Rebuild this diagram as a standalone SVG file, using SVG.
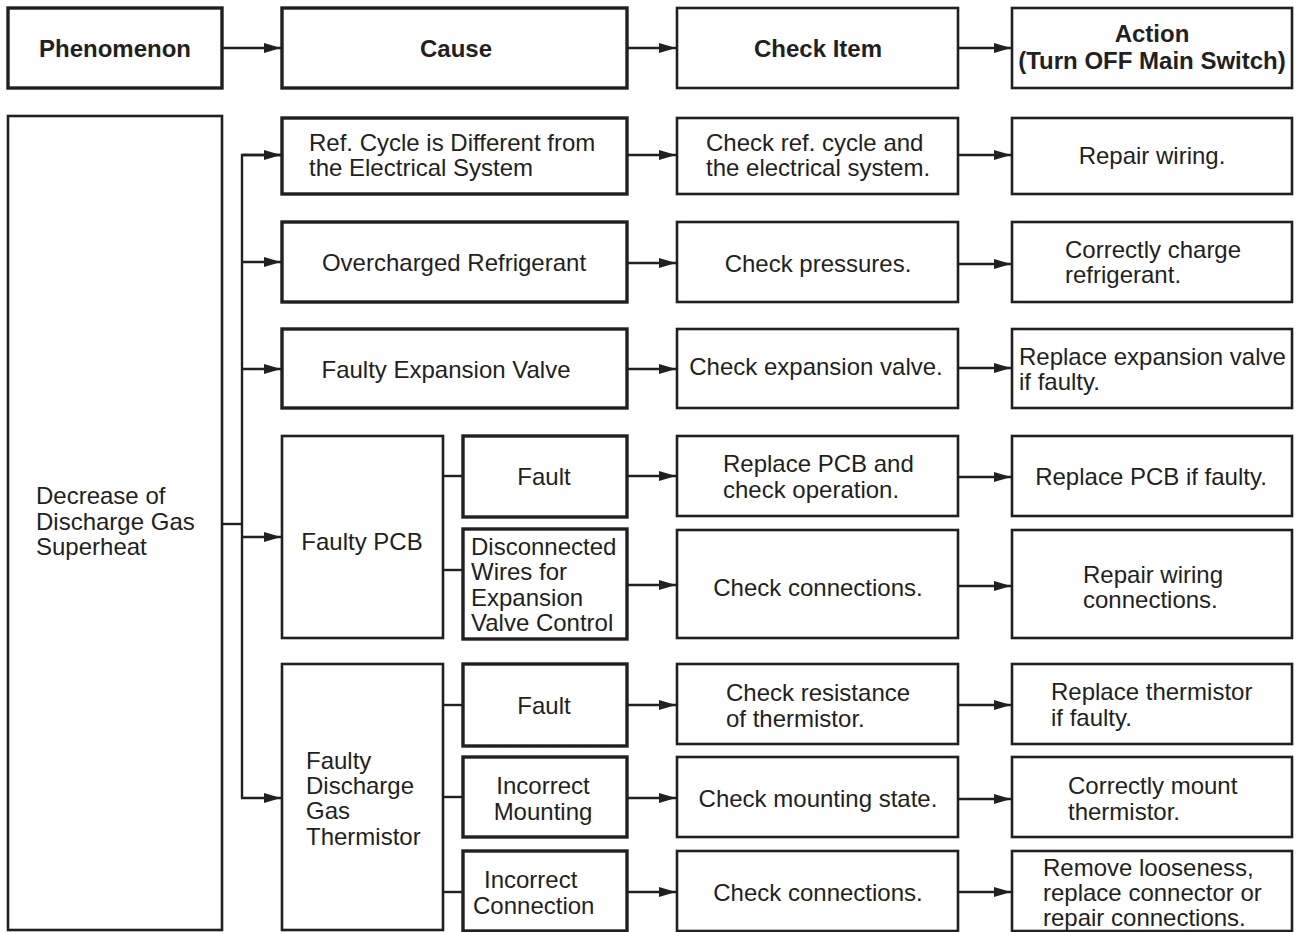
<svg xmlns="http://www.w3.org/2000/svg" width="1297" height="932" viewBox="0 0 1297 932">
<style>
text{font-family:"Liberation Sans",Arial,Helvetica,sans-serif;font-size:24px;fill:#231f20}
.b{font-weight:bold}
.m{text-anchor:middle}
.box{fill:#fff;stroke:#231f20;stroke-width:2.6}
.tk{fill:#fff;stroke:#231f20;stroke-width:3.4}
.ln{fill:none;stroke:#231f20;stroke-width:2.4}
.ar{fill:none;stroke:#231f20;stroke-width:2.4;marker-end:url(#ah)}
</style>
<defs>
<marker id="ah" viewBox="0 0 17 11" refX="17" refY="5.5" markerWidth="17" markerHeight="11" orient="auto" markerUnits="userSpaceOnUse">
<path d="M0,0.5 L17,5.5 L0,10.5 z" fill="#231f20"/>
</marker>
</defs>
<rect width="1297" height="932" fill="#fff"/>

<g id="connectors">
<line class="ar" x1="223" y1="48" x2="281" y2="48"/>
<line class="ar" x1="627" y1="48" x2="676" y2="48"/>
<line class="ar" x1="958" y1="48" x2="1011" y2="48"/>
<line class="ln" x1="223" y1="524" x2="242" y2="524"/>
<polyline class="ln" points="281,155 242,155 242,798"/>
<line class="ar" x1="242" y1="155" x2="281" y2="155"/>
<line class="ar" x1="242" y1="262" x2="281" y2="262"/>
<line class="ar" x1="242" y1="369" x2="281" y2="369"/>
<line class="ar" x1="242" y1="537" x2="281" y2="537"/>
<line class="ar" x1="241" y1="798" x2="281" y2="798"/>
<line class="ln" x1="443" y1="476" x2="462" y2="476"/>
<line class="ln" x1="443" y1="570" x2="462" y2="570"/>
<line class="ln" x1="443" y1="705" x2="462" y2="705"/>
<line class="ln" x1="443" y1="797" x2="462" y2="797"/>
<line class="ln" x1="443" y1="892" x2="462" y2="892"/>
<line class="ar" x1="627" y1="155" x2="676" y2="155"/>
<line class="ar" x1="627" y1="263" x2="676" y2="263"/>
<line class="ar" x1="627" y1="369" x2="676" y2="369"/>
<line class="ar" x1="627" y1="476" x2="676" y2="476"/>
<line class="ar" x1="627" y1="585" x2="676" y2="585"/>
<line class="ar" x1="627" y1="705" x2="676" y2="705"/>
<line class="ar" x1="627" y1="798" x2="676" y2="798"/>
<line class="ar" x1="627" y1="892" x2="676" y2="892"/>
<line class="ar" x1="958" y1="155" x2="1011" y2="155"/>
<line class="ar" x1="958" y1="264" x2="1011" y2="264"/>
<line class="ar" x1="958" y1="368" x2="1011" y2="368"/>
<line class="ar" x1="958" y1="477" x2="1011" y2="477"/>
<line class="ar" x1="958" y1="586" x2="1011" y2="586"/>
<line class="ar" x1="958" y1="705" x2="1011" y2="705"/>
<line class="ar" x1="958" y1="799" x2="1011" y2="799"/>
<line class="ar" x1="958" y1="892" x2="1011" y2="892"/>
</g>

<g id="h-phenomenon"><rect class="tk" x="8" y="8" width="214" height="80"/><text class="b m" x="115" y="57">Phenomenon</text></g>
<g id="h-cause"><rect class="tk" x="282" y="8" width="345" height="80"/><text class="b m" x="456" y="57">Cause</text></g>
<g id="h-check"><rect class="box" x="677" y="8" width="281" height="80"/><text class="b m" x="818" y="57">Check Item</text></g>
<g id="h-action"><rect class="box" x="1012" y="8" width="280" height="80"/><text class="b m" x="1152" y="42">Action</text><text class="b m" x="1152" y="69">(Turn OFF Main Switch)</text></g>

<g id="phenomenon"><rect class="box" x="8" y="116" width="214" height="814"/>
<text x="36" y="504">Decrease of</text><text x="36" y="530">Discharge Gas</text><text x="36" y="555">Superheat</text></g>

<g id="c-refcycle"><rect class="tk" x="282" y="118" width="345" height="76"/>
<text x="309" y="151">Ref. Cycle is Different from</text><text x="309" y="176">the Electrical System</text></g>
<g id="c-overcharged"><rect class="tk" x="282" y="222" width="345" height="80"/>
<text class="m" x="454" y="271">Overcharged Refrigerant</text></g>
<g id="c-expansion"><rect class="tk" x="282" y="329" width="345" height="79"/>
<text class="m" x="446" y="378">Faulty Expansion Valve</text></g>
<g id="c-pcb"><rect class="box" x="282" y="436" width="161" height="202"/>
<text class="m" x="362" y="550">Faulty PCB</text></g>
<g id="c-pcb-fault"><rect class="tk" x="463" y="436" width="164" height="81"/>
<text class="m" x="544" y="485">Fault</text></g>
<g id="c-pcb-wires"><rect class="tk" x="463" y="529" width="164" height="110"/>
<text x="471" y="555">Disconnected</text><text x="471" y="580">Wires for</text><text x="471" y="606">Expansion</text><text x="471" y="631">Valve Control</text></g>
<g id="c-thermistor"><rect class="box" x="282" y="664" width="161" height="266"/>
<text x="306" y="769">Faulty</text><text x="306" y="794">Discharge</text><text x="306" y="819">Gas</text><text x="306" y="845">Thermistor</text></g>
<g id="c-th-fault"><rect class="tk" x="463" y="664" width="164" height="82"/>
<text class="m" x="544" y="714">Fault</text></g>
<g id="c-th-mount"><rect class="tk" x="463" y="757" width="164" height="80"/>
<text class="m" x="543" y="794">Incorrect</text><text class="m" x="543" y="820">Mounting</text></g>
<g id="c-th-conn"><rect class="tk" x="463" y="851" width="164" height="80"/>
<text x="484" y="888">Incorrect</text><text x="473" y="914">Connection</text></g>

<g id="k-1"><rect class="box" x="677" y="118" width="281" height="76"/>
<text x="706" y="151">Check ref. cycle and</text><text x="706" y="176">the electrical system.</text></g>
<g id="k-2"><rect class="box" x="677" y="222" width="281" height="80"/>
<text class="m" x="818" y="272">Check pressures.</text></g>
<g id="k-3"><rect class="box" x="677" y="329" width="281" height="79"/>
<text class="m" x="816" y="375">Check expansion valve.</text></g>
<g id="k-4"><rect class="box" x="677" y="436" width="281" height="80"/>
<text x="723" y="472">Replace PCB and</text><text x="723" y="498">check operation.</text></g>
<g id="k-5"><rect class="box" x="677" y="530" width="281" height="108"/>
<text class="m" x="818" y="596">Check connections.</text></g>
<g id="k-6"><rect class="box" x="677" y="664" width="281" height="80"/>
<text x="726" y="701">Check resistance</text><text x="726" y="727">of thermistor.</text></g>
<g id="k-7"><rect class="box" x="677" y="757" width="281" height="80"/>
<text class="m" x="818" y="807">Check mounting state.</text></g>
<g id="k-8"><rect class="box" x="677" y="851" width="281" height="80"/>
<text class="m" x="818" y="901">Check connections.</text></g>

<g id="a-1"><rect class="box" x="1012" y="118" width="280" height="76"/>
<text class="m" x="1152" y="164">Repair wiring.</text></g>
<g id="a-2"><rect class="box" x="1012" y="222" width="280" height="80"/>
<text x="1065" y="258">Correctly charge</text><text x="1065" y="283">refrigerant.</text></g>
<g id="a-3"><rect class="box" x="1012" y="329" width="280" height="79"/>
<text x="1019" y="365">Replace expansion valve</text><text x="1019" y="390">if faulty.</text></g>
<g id="a-4"><rect class="box" x="1012" y="436" width="280" height="80"/>
<text class="m" x="1151" y="485">Replace PCB if faulty.</text></g>
<g id="a-5"><rect class="box" x="1012" y="530" width="280" height="108"/>
<text x="1083" y="583">Repair wiring</text><text x="1083" y="608">connections.</text></g>
<g id="a-6"><rect class="box" x="1012" y="664" width="280" height="80"/>
<text x="1051" y="700">Replace thermistor</text><text x="1051" y="726">if faulty.</text></g>
<g id="a-7"><rect class="box" x="1012" y="757" width="280" height="80"/>
<text x="1068" y="794">Correctly mount</text><text x="1068" y="820">thermistor.</text></g>
<g id="a-8"><rect class="box" x="1012" y="851" width="280" height="80"/>
<text x="1043" y="876">Remove looseness,</text><text x="1043" y="901">replace connector or</text><text x="1043" y="926">repair connections.</text></g>
</svg>
